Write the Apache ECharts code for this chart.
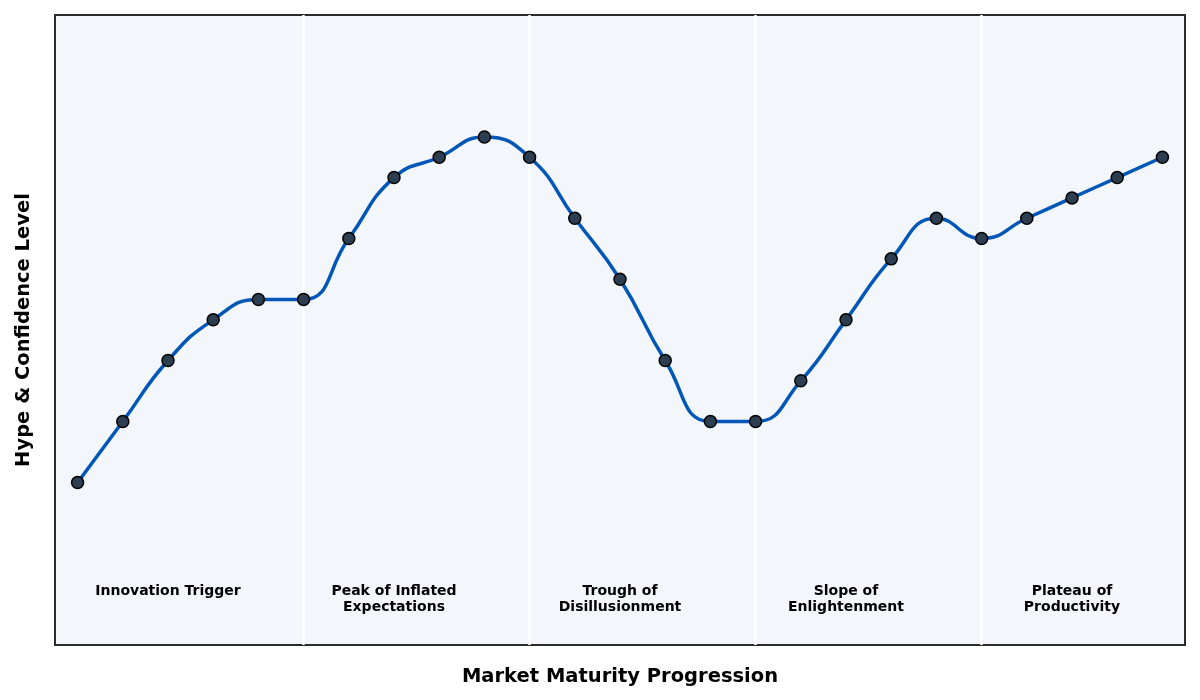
<!DOCTYPE html>
<html>
<head>
<meta charset="utf-8">
<script src="https://cdn.jsdelivr.net/npm/echarts@6/dist/echarts.min.js"></script>
<style>
html,body{margin:0;padding:0;background:#fff;}
#chart{width:1200px;height:700px;}
</style>
</head>
<body>
<div id="chart"></div>
<script>
var hypeValues = [40, 55, 70, 80, 85, 85, 100, 115, 120, 125, 120, 105, 90, 70, 55, 55, 65, 80, 95, 105, 100, 105, 110, 115, 120];
var phaseNames = ['Innovation Trigger', 'Peak of Inflated\nExpectations', 'Trough of\nDisillusionment', 'Slope of\nEnlightenment', 'Plateau of\nProductivity'];
var phaseLabelX = [2, 7, 12, 17, 22];
var phaseLabelY = 15;
var phaseBoundaries = [5, 10, 15, 20];
var xAxisTitle = 'Market Maturity Progression';
var yAxisTitle = 'Hype & Confidence Level';

var lineData = hypeValues.map(function (v, i) { return [i, v]; });
var labelData = phaseNames.map(function (n, i) { return { value: [phaseLabelX[i], phaseLabelY], name: n }; });

var chart = echarts.init(document.getElementById('chart'));
chart.setOption({
  animation: false,
  grid: {
    left: 55, right: 15, top: 15, bottom: 55,
    show: true, backgroundColor: '#f3f6fa', borderColor: '#2b2b2b', borderWidth: 2
  },
  xAxis: {
    type: 'value', min: -0.5, max: 24.5,
    axisLine: { show: false }, axisTick: { show: false }, axisLabel: { show: false }, splitLine: { show: false },
    name: xAxisTitle, nameLocation: 'middle', nameGap: 22,
    nameTextStyle: { fontFamily: 'DejaVu Sans', fontWeight: 'bold', fontSize: 19.5, color: '#000' }
  },
  yAxis: {
    type: 'value', min: 0, max: 155,
    axisLine: { show: false }, axisTick: { show: false }, axisLabel: { show: false }, splitLine: { show: false },
    name: yAxisTitle, nameLocation: 'middle', nameGap: 21,
    nameTextStyle: { fontFamily: 'DejaVu Sans', fontWeight: 'bold', fontSize: 19.5, color: '#000' }
  },
  series: [
    {
      type: 'line',
      data: [],
      z: 1,
      silent: true,
      markLine: {
        silent: true,
        symbol: 'none',
        z: 1,
        label: { show: false },
        lineStyle: { color: '#ffffff', width: 2.5, type: 'solid', opacity: 1 },
        data: phaseBoundaries.map(function (b) { return { xAxis: b }; })
      }
    },
    {
      type: 'line',
      data: lineData,
      smooth: 0.5,
      z: 5,
      lineStyle: { color: '#0057b7', width: 3.5 },
      symbol: 'circle',
      symbolSize: 12,
      itemStyle: { color: '#2c3e50', borderColor: '#000000', borderWidth: 1.5 }
    },
    {
      type: 'scatter',
      data: labelData,
      symbolSize: 0,
      silent: true,
      itemStyle: { opacity: 1 },
      label: {
        show: true,
        position: 'bottom',
        distance: 0,
        formatter: function (p) { return p.name; },
        fontFamily: 'DejaVu Sans',
        fontWeight: 'bold',
        fontSize: 14,
        lineHeight: 15.5,
        align: 'center',
        color: '#000000',
        opacity: 1
      }
    }
  ]
});
</script>
</body>
</html>
